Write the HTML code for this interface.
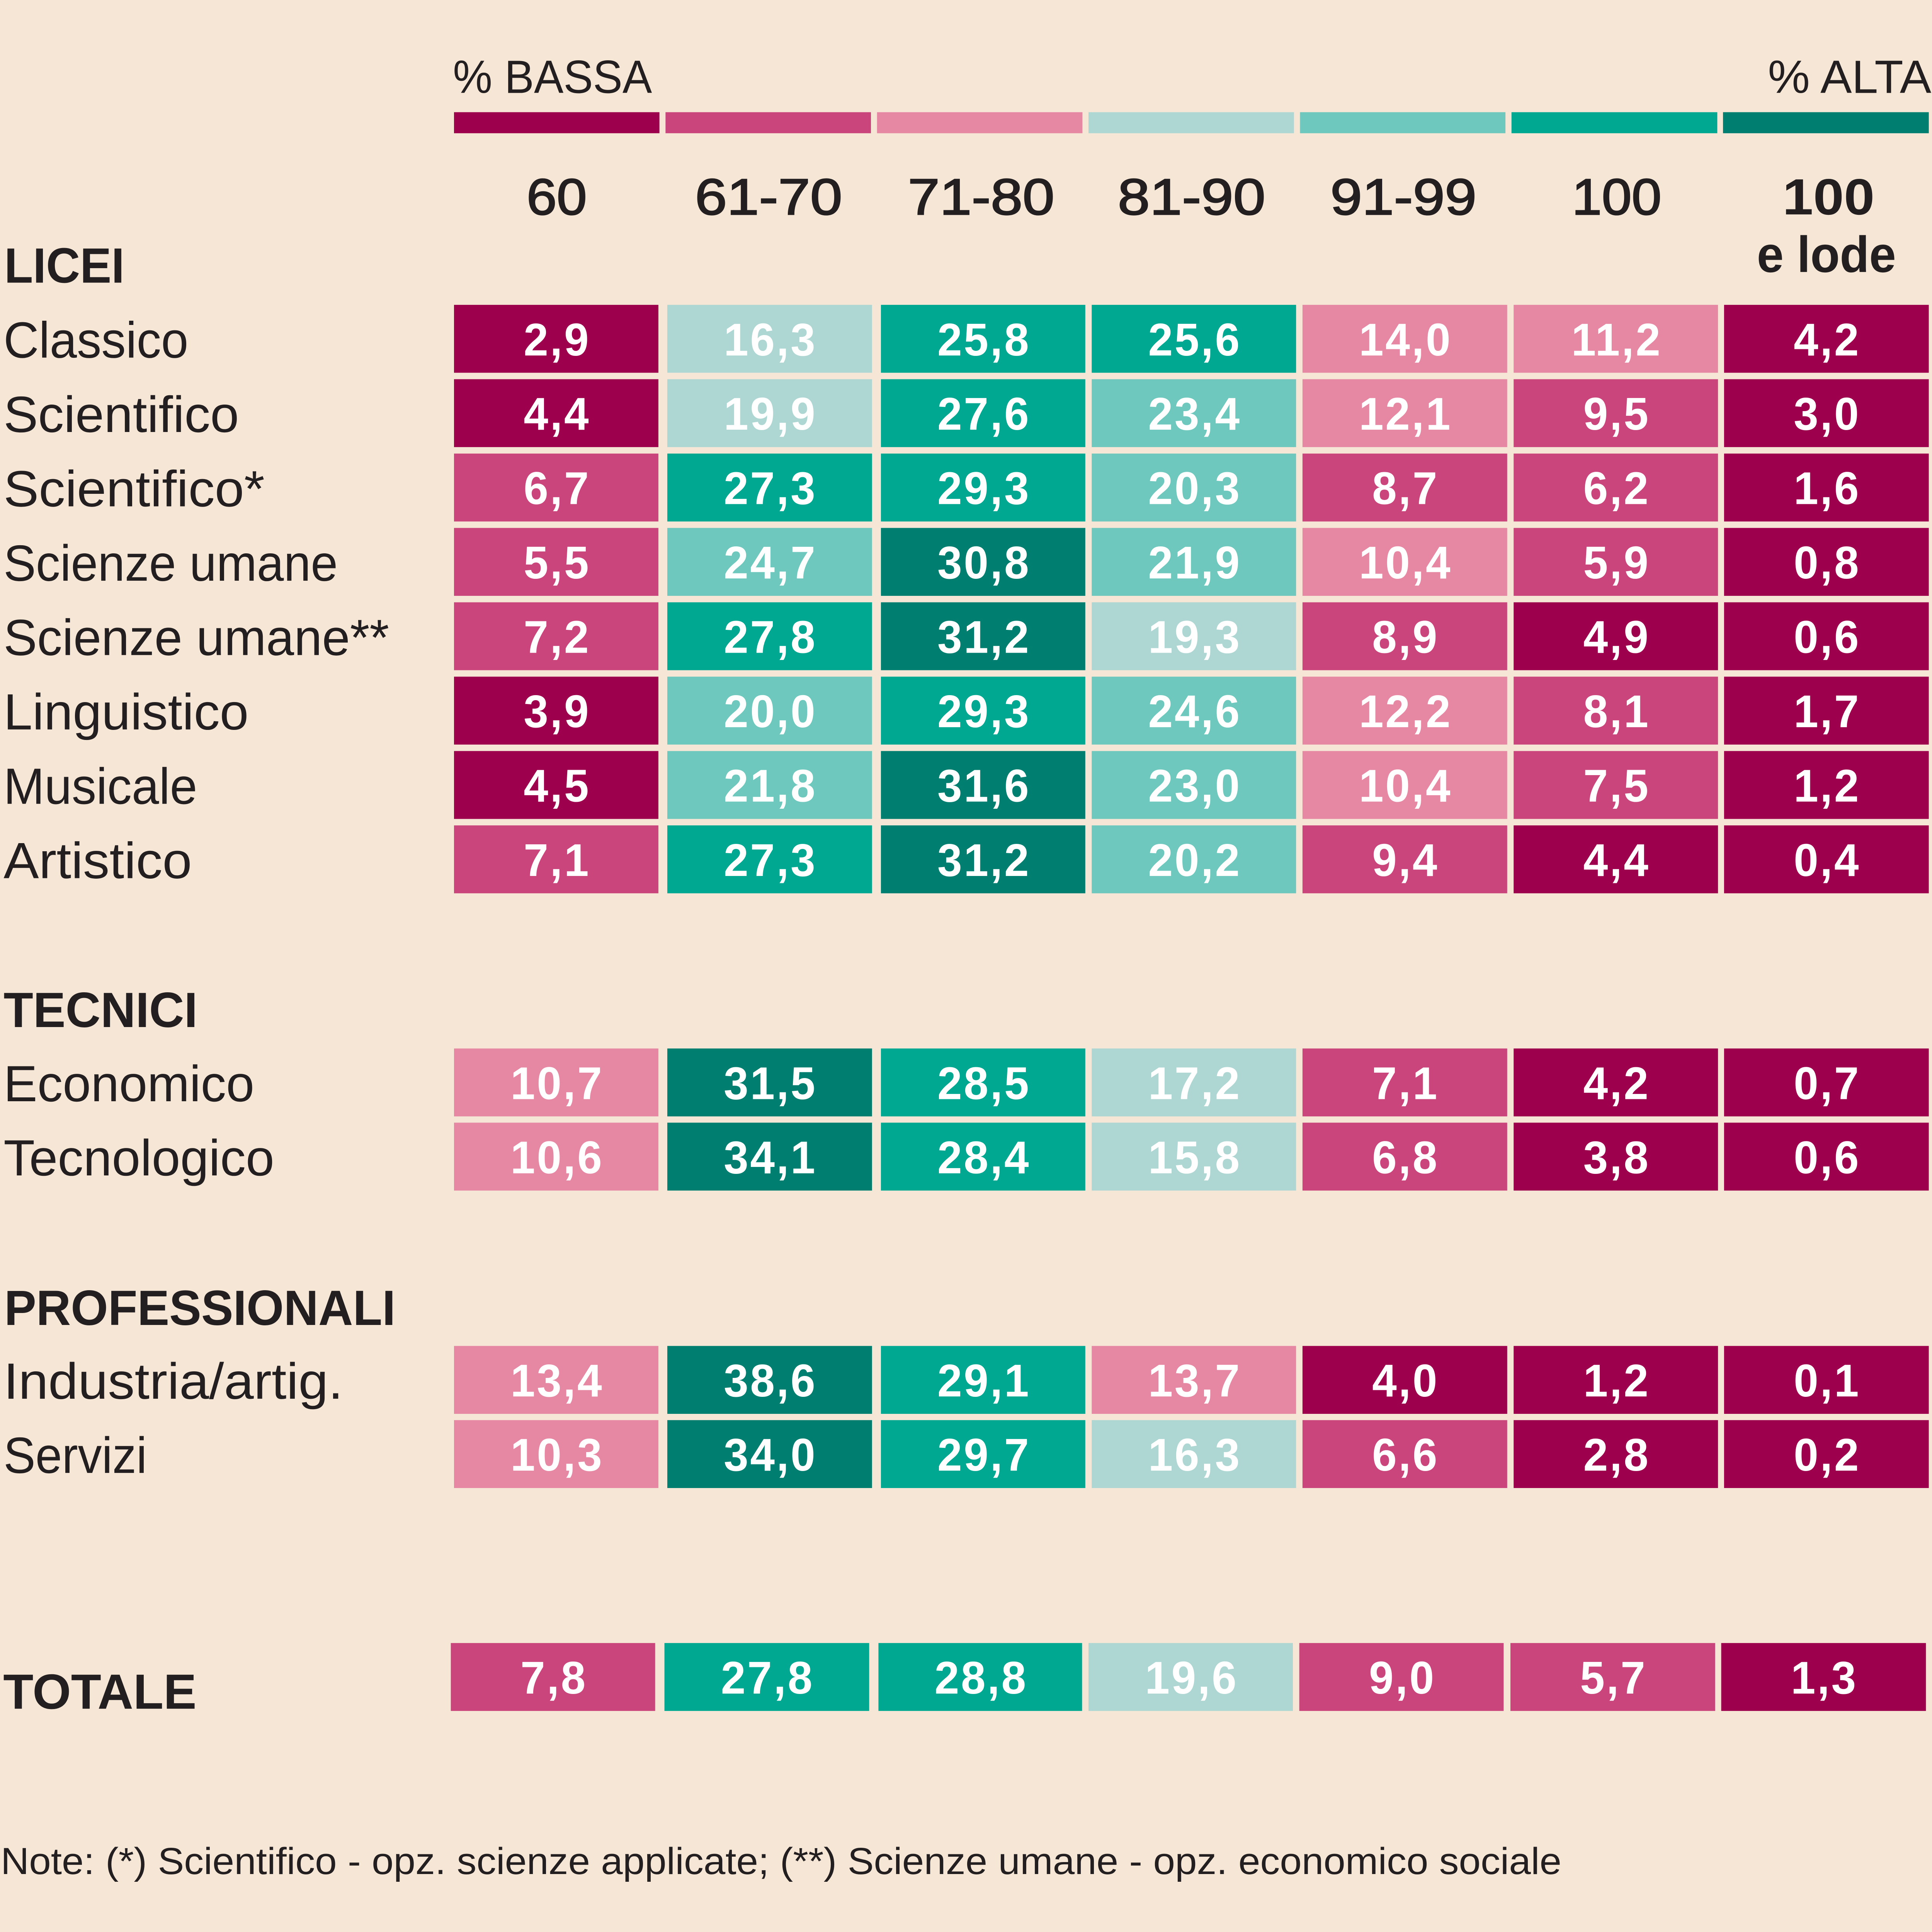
<!DOCTYPE html>
<html><head><meta charset="utf-8">
<style>
html,body{margin:0;padding:0;background:#f5e6d6;overflow:hidden;width:100vw;height:100vh;}
svg{display:block;position:absolute;left:0;top:0;width:100vw;height:100vh;}
.v{font-family:"Liberation Sans",sans-serif;font-weight:bold;font-size:124px;fill:#ffffff;text-anchor:middle;letter-spacing:5px;}
.l{font-family:"Liberation Sans",sans-serif;font-size:138px;fill:#231f20;}
.g{font-family:"Liberation Sans",sans-serif;font-weight:bold;font-size:134px;fill:#231f20;}
.h{font-family:"Liberation Sans",sans-serif;font-size:138px;fill:#231f20;text-anchor:middle;stroke:#231f20;stroke-width:3px;}
.hb{font-family:"Liberation Sans",sans-serif;font-weight:bold;font-size:138px;fill:#231f20;text-anchor:middle;}
.t{font-family:"Liberation Sans",sans-serif;font-size:126px;fill:#231f20;}
.n{font-family:"Liberation Sans",sans-serif;font-size:102px;fill:#231f20;}
.c1{fill:#9d004d}.c2{fill:#c9457b}.c3{fill:#e688a3}.c4{fill:#aed6d2}.c5{fill:#6fc8bd}.c6{fill:#00a891}.c7{fill:#007f71}
</style></head>
<body>
<svg xmlns="http://www.w3.org/2000/svg" viewBox="0 0 5417 5235" preserveAspectRatio="none">
<rect x="0" y="0" width="5417" height="5235" fill="#f5e6d6"/>

<!-- legend -->
<text class="t" x="1270" y="252" textLength="558" lengthAdjust="spacingAndGlyphs">% BASSA</text>
<text class="t" x="5415" y="252" text-anchor="end" textLength="458" lengthAdjust="spacingAndGlyphs">% ALTA</text>
<rect class="c1" x="1273" y="304" width="576" height="57"/>
<rect class="c2" x="1866" y="304" width="576" height="57"/>
<rect class="c3" x="2459" y="304" width="576" height="57"/>
<rect class="c4" x="3052" y="304" width="576" height="57"/>
<rect class="c5" x="3645" y="304" width="576" height="57"/>
<rect class="c6" x="4238" y="304" width="577" height="57"/>
<rect class="c7" x="4831" y="304" width="577" height="57"/>

<!-- column headers -->
<text class="h" x="1561" y="581" textLength="169" lengthAdjust="spacingAndGlyphs">60</text>
<text class="h" x="2155" y="581" textLength="413" lengthAdjust="spacingAndGlyphs">61-70</text>
<text class="h" x="2751" y="581" textLength="411" lengthAdjust="spacingAndGlyphs">71-80</text>
<text class="h" x="3341" y="581" textLength="414" lengthAdjust="spacingAndGlyphs">81-90</text>
<text class="h" x="3935" y="581" textLength="410" lengthAdjust="spacingAndGlyphs">91-99</text>
<text class="h" x="4533" y="581" textLength="251" lengthAdjust="spacingAndGlyphs">100</text>
<text class="hb" x="5127" y="581" textLength="258" lengthAdjust="spacingAndGlyphs">100</text>
<text class="hb" x="5121" y="737" textLength="390" lengthAdjust="spacingAndGlyphs">e lode</text>

<!-- group labels -->
<text class="g" x="12" y="766" textLength="337" lengthAdjust="spacingAndGlyphs">LICEI</text>
<text class="g" x="10" y="2783" textLength="544" lengthAdjust="spacingAndGlyphs">TECNICI</text>
<text class="g" x="12" y="3590" textLength="1097" lengthAdjust="spacingAndGlyphs">PROFESSIONALI</text>
<text class="g" x="9" y="4630" textLength="542" lengthAdjust="spacingAndGlyphs">TOTALE</text>

<!-- Classico -->
<g transform="translate(0,826)">
<text class="l" x="10" y="143" textLength="518" lengthAdjust="spacingAndGlyphs">Classico</text>
<rect class="c1" x="1273" y="0" width="573" height="184"/><text class="v" x="1562" y="137">2,9</text>
<rect class="c4" x="1871" y="0" width="574" height="184"/><text class="v" x="2160" y="137">16,3</text>
<rect class="c6" x="2470" y="0" width="573" height="184"/><text class="v" x="2759" y="137">25,8</text>
<rect class="c6" x="3061" y="0" width="573" height="184"/><text class="v" x="3350" y="137">25,6</text>
<rect class="c3" x="3652" y="0" width="574" height="184"/><text class="v" x="3941" y="137">14,0</text>
<rect class="c3" x="4244" y="0" width="573" height="184"/><text class="v" x="4533" y="137">11,2</text>
<rect class="c1" x="4834" y="0" width="574" height="184"/><text class="v" x="5123" y="137">4,2</text>
</g>
<!-- Scientifico -->
<g transform="translate(0,1027.5)">
<text class="l" x="10" y="143" textLength="660" lengthAdjust="spacingAndGlyphs">Scientifico</text>
<rect class="c1" x="1273" y="0" width="573" height="184"/><text class="v" x="1562" y="137">4,4</text>
<rect class="c4" x="1871" y="0" width="574" height="184"/><text class="v" x="2160" y="137">19,9</text>
<rect class="c6" x="2470" y="0" width="573" height="184"/><text class="v" x="2759" y="137">27,6</text>
<rect class="c5" x="3061" y="0" width="573" height="184"/><text class="v" x="3350" y="137">23,4</text>
<rect class="c3" x="3652" y="0" width="574" height="184"/><text class="v" x="3941" y="137">12,1</text>
<rect class="c2" x="4244" y="0" width="573" height="184"/><text class="v" x="4533" y="137">9,5</text>
<rect class="c1" x="4834" y="0" width="574" height="184"/><text class="v" x="5123" y="137">3,0</text>
</g>
<!-- Scientifico* -->
<g transform="translate(0,1229)">
<text class="l" x="10" y="143" textLength="732" lengthAdjust="spacingAndGlyphs">Scientifico*</text>
<rect class="c2" x="1273" y="0" width="573" height="184"/><text class="v" x="1562" y="137">6,7</text>
<rect class="c6" x="1871" y="0" width="574" height="184"/><text class="v" x="2160" y="137">27,3</text>
<rect class="c6" x="2470" y="0" width="573" height="184"/><text class="v" x="2759" y="137">29,3</text>
<rect class="c5" x="3061" y="0" width="573" height="184"/><text class="v" x="3350" y="137">20,3</text>
<rect class="c2" x="3652" y="0" width="574" height="184"/><text class="v" x="3941" y="137">8,7</text>
<rect class="c2" x="4244" y="0" width="573" height="184"/><text class="v" x="4533" y="137">6,2</text>
<rect class="c1" x="4834" y="0" width="574" height="184"/><text class="v" x="5123" y="137">1,6</text>
</g>
<!-- Scienze umane -->
<g transform="translate(0,1430.5)">
<text class="l" x="10" y="143" textLength="937" lengthAdjust="spacingAndGlyphs">Scienze umane</text>
<rect class="c2" x="1273" y="0" width="573" height="184"/><text class="v" x="1562" y="137">5,5</text>
<rect class="c5" x="1871" y="0" width="574" height="184"/><text class="v" x="2160" y="137">24,7</text>
<rect class="c7" x="2470" y="0" width="573" height="184"/><text class="v" x="2759" y="137">30,8</text>
<rect class="c5" x="3061" y="0" width="573" height="184"/><text class="v" x="3350" y="137">21,9</text>
<rect class="c3" x="3652" y="0" width="574" height="184"/><text class="v" x="3941" y="137">10,4</text>
<rect class="c2" x="4244" y="0" width="573" height="184"/><text class="v" x="4533" y="137">5,9</text>
<rect class="c1" x="4834" y="0" width="574" height="184"/><text class="v" x="5123" y="137">0,8</text>
</g>
<!-- Scienze umane** -->
<g transform="translate(0,1632)">
<text class="l" x="10" y="143" textLength="1081" lengthAdjust="spacingAndGlyphs">Scienze umane**</text>
<rect class="c2" x="1273" y="0" width="573" height="184"/><text class="v" x="1562" y="137">7,2</text>
<rect class="c6" x="1871" y="0" width="574" height="184"/><text class="v" x="2160" y="137">27,8</text>
<rect class="c7" x="2470" y="0" width="573" height="184"/><text class="v" x="2759" y="137">31,2</text>
<rect class="c4" x="3061" y="0" width="573" height="184"/><text class="v" x="3350" y="137">19,3</text>
<rect class="c2" x="3652" y="0" width="574" height="184"/><text class="v" x="3941" y="137">8,9</text>
<rect class="c1" x="4244" y="0" width="573" height="184"/><text class="v" x="4533" y="137">4,9</text>
<rect class="c1" x="4834" y="0" width="574" height="184"/><text class="v" x="5123" y="137">0,6</text>
</g>
<!-- Linguistico -->
<g transform="translate(0,1833.5)">
<text class="l" x="10" y="143" textLength="687" lengthAdjust="spacingAndGlyphs">Linguistico</text>
<rect class="c1" x="1273" y="0" width="573" height="184"/><text class="v" x="1562" y="137">3,9</text>
<rect class="c5" x="1871" y="0" width="574" height="184"/><text class="v" x="2160" y="137">20,0</text>
<rect class="c6" x="2470" y="0" width="573" height="184"/><text class="v" x="2759" y="137">29,3</text>
<rect class="c5" x="3061" y="0" width="573" height="184"/><text class="v" x="3350" y="137">24,6</text>
<rect class="c3" x="3652" y="0" width="574" height="184"/><text class="v" x="3941" y="137">12,2</text>
<rect class="c2" x="4244" y="0" width="573" height="184"/><text class="v" x="4533" y="137">8,1</text>
<rect class="c1" x="4834" y="0" width="574" height="184"/><text class="v" x="5123" y="137">1,7</text>
</g>
<!-- Musicale -->
<g transform="translate(0,2035)">
<text class="l" x="10" y="143" textLength="543" lengthAdjust="spacingAndGlyphs">Musicale</text>
<rect class="c1" x="1273" y="0" width="573" height="184"/><text class="v" x="1562" y="137">4,5</text>
<rect class="c5" x="1871" y="0" width="574" height="184"/><text class="v" x="2160" y="137">21,8</text>
<rect class="c7" x="2470" y="0" width="573" height="184"/><text class="v" x="2759" y="137">31,6</text>
<rect class="c5" x="3061" y="0" width="573" height="184"/><text class="v" x="3350" y="137">23,0</text>
<rect class="c3" x="3652" y="0" width="574" height="184"/><text class="v" x="3941" y="137">10,4</text>
<rect class="c2" x="4244" y="0" width="573" height="184"/><text class="v" x="4533" y="137">7,5</text>
<rect class="c1" x="4834" y="0" width="574" height="184"/><text class="v" x="5123" y="137">1,2</text>
</g>
<!-- Artistico -->
<g transform="translate(0,2236.5)">
<text class="l" x="10" y="143" textLength="528" lengthAdjust="spacingAndGlyphs">Artistico</text>
<rect class="c2" x="1273" y="0" width="573" height="184"/><text class="v" x="1562" y="137">7,1</text>
<rect class="c6" x="1871" y="0" width="574" height="184"/><text class="v" x="2160" y="137">27,3</text>
<rect class="c7" x="2470" y="0" width="573" height="184"/><text class="v" x="2759" y="137">31,2</text>
<rect class="c5" x="3061" y="0" width="573" height="184"/><text class="v" x="3350" y="137">20,2</text>
<rect class="c2" x="3652" y="0" width="574" height="184"/><text class="v" x="3941" y="137">9,4</text>
<rect class="c1" x="4244" y="0" width="573" height="184"/><text class="v" x="4533" y="137">4,4</text>
<rect class="c1" x="4834" y="0" width="574" height="184"/><text class="v" x="5123" y="137">0,4</text>
</g>

<!-- Economico -->
<g transform="translate(0,2841)">
<text class="l" x="10" y="143" textLength="703" lengthAdjust="spacingAndGlyphs">Economico</text>
<rect class="c3" x="1273" y="0" width="573" height="184"/><text class="v" x="1562" y="137">10,7</text>
<rect class="c7" x="1871" y="0" width="574" height="184"/><text class="v" x="2160" y="137">31,5</text>
<rect class="c6" x="2470" y="0" width="573" height="184"/><text class="v" x="2759" y="137">28,5</text>
<rect class="c4" x="3061" y="0" width="573" height="184"/><text class="v" x="3350" y="137">17,2</text>
<rect class="c2" x="3652" y="0" width="574" height="184"/><text class="v" x="3941" y="137">7,1</text>
<rect class="c1" x="4244" y="0" width="573" height="184"/><text class="v" x="4533" y="137">4,2</text>
<rect class="c1" x="4834" y="0" width="574" height="184"/><text class="v" x="5123" y="137">0,7</text>
</g>
<!-- Tecnologico -->
<g transform="translate(0,3042)">
<text class="l" x="10" y="143" textLength="759" lengthAdjust="spacingAndGlyphs">Tecnologico</text>
<rect class="c3" x="1273" y="0" width="573" height="184"/><text class="v" x="1562" y="137">10,6</text>
<rect class="c7" x="1871" y="0" width="574" height="184"/><text class="v" x="2160" y="137">34,1</text>
<rect class="c6" x="2470" y="0" width="573" height="184"/><text class="v" x="2759" y="137">28,4</text>
<rect class="c4" x="3061" y="0" width="573" height="184"/><text class="v" x="3350" y="137">15,8</text>
<rect class="c2" x="3652" y="0" width="574" height="184"/><text class="v" x="3941" y="137">6,8</text>
<rect class="c1" x="4244" y="0" width="573" height="184"/><text class="v" x="4533" y="137">3,8</text>
<rect class="c1" x="4834" y="0" width="574" height="184"/><text class="v" x="5123" y="137">0,6</text>
</g>

<!-- Industria/artig. -->
<g transform="translate(0,3647)">
<text class="l" x="10" y="143" textLength="952" lengthAdjust="spacingAndGlyphs">Industria/artig.</text>
<rect class="c3" x="1273" y="0" width="573" height="184"/><text class="v" x="1562" y="137">13,4</text>
<rect class="c7" x="1871" y="0" width="574" height="184"/><text class="v" x="2160" y="137">38,6</text>
<rect class="c6" x="2470" y="0" width="573" height="184"/><text class="v" x="2759" y="137">29,1</text>
<rect class="c3" x="3061" y="0" width="573" height="184"/><text class="v" x="3350" y="137">13,7</text>
<rect class="c1" x="3652" y="0" width="574" height="184"/><text class="v" x="3941" y="137">4,0</text>
<rect class="c1" x="4244" y="0" width="573" height="184"/><text class="v" x="4533" y="137">1,2</text>
<rect class="c1" x="4834" y="0" width="574" height="184"/><text class="v" x="5123" y="137">0,1</text>
</g>
<!-- Servizi -->
<g transform="translate(0,3848)">
<text class="l" x="10" y="143" textLength="402" lengthAdjust="spacingAndGlyphs">Servizi</text>
<rect class="c3" x="1273" y="0" width="573" height="184"/><text class="v" x="1562" y="137">10,3</text>
<rect class="c7" x="1871" y="0" width="574" height="184"/><text class="v" x="2160" y="137">34,0</text>
<rect class="c6" x="2470" y="0" width="573" height="184"/><text class="v" x="2759" y="137">29,7</text>
<rect class="c4" x="3061" y="0" width="573" height="184"/><text class="v" x="3350" y="137">16,3</text>
<rect class="c2" x="3652" y="0" width="574" height="184"/><text class="v" x="3941" y="137">6,6</text>
<rect class="c1" x="4244" y="0" width="573" height="184"/><text class="v" x="4533" y="137">2,8</text>
<rect class="c1" x="4834" y="0" width="574" height="184"/><text class="v" x="5123" y="137">0,2</text>
</g>

<!-- TOTALE -->
<g transform="translate(0,4452)">
<rect class="c2" x="1264" y="0" width="573" height="184"/><text class="v" x="1553" y="137">7,8</text>
<rect class="c6" x="1863" y="0" width="574" height="184"/><text class="v" x="2152" y="137">27,8</text>
<rect class="c6" x="2463" y="0" width="571" height="184"/><text class="v" x="2751" y="137">28,8</text>
<rect class="c4" x="3052" y="0" width="573" height="184"/><text class="v" x="3341" y="137">19,6</text>
<rect class="c2" x="3643" y="0" width="573" height="184"/><text class="v" x="3932" y="137">9,0</text>
<rect class="c2" x="4235" y="0" width="574" height="184"/><text class="v" x="4524" y="137">5,7</text>
<rect class="c1" x="4826" y="0" width="574" height="184"/><text class="v" x="5115" y="137">1,3</text>
</g>

<!-- Note -->
<text class="n" x="2" y="5078" textLength="4376" lengthAdjust="spacingAndGlyphs">Note: (*) Scientifico - opz. scienze applicate; (**) Scienze umane - opz. economico sociale</text>
</svg>
</body></html>
